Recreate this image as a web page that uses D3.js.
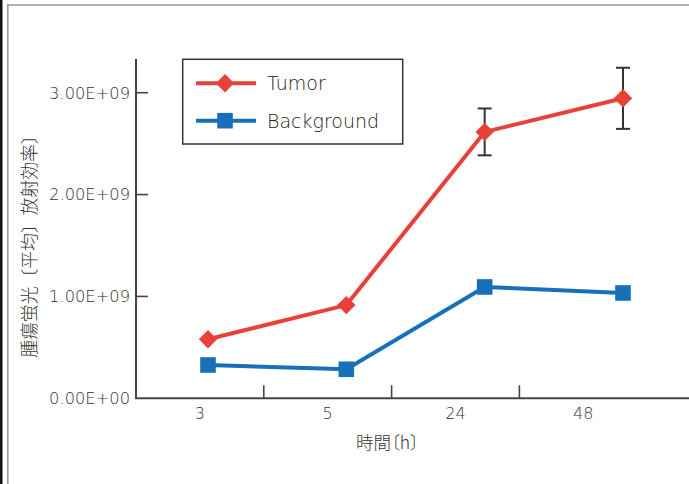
<!DOCTYPE html>
<html>
<head>
<meta charset="utf-8">
<script src="https://cdn.jsdelivr.net/npm/d3@7/dist/d3.min.js"></script>
<style>
  html, body { margin: 0; padding: 0; background: #fff; }
  svg { display: block; }
</style>
</head>
<body>
<script>
// Time points (hours) and mean radiant efficiency per series
const categories = ["3", "5", "24", "48"];
const tumorValues = [0.58e9, 0.915e9, 2.615e9, 2.945e9];
const tumorErrors = [0, 0, 0.23e9, 0.3e9];
const backgroundValues = [0.327e9, 0.285e9, 1.093e9, 1.034e9];
const yTickValues = [0, 1e9, 2e9, 3e9];
const seriesNames = ["Tumor", "Background"];

const W = 689, H = 484;
const svg = d3.select("body").append("svg").attr("width", W).attr("height", H);

// page frame
svg.append("rect").attr("x", 0).attr("y", 0).attr("width", 2.5).attr("height", H).attr("fill", "#111");
svg.append("path").attr("d", `M7.8,${H} V5 H${W}`).attr("fill", "none")
  .attr("stroke", "#9a9a9a").attr("stroke-width", 1.6);

const axisColor = "#444";
const textColor = "#333";
const red = "#e8413a", blue = "#1770b9";

// scales
const x = d3.scaleBand().domain(categories).range([136, 647.2]);
const xp = d3.scalePoint().domain(categories).range([208, 623]);
const y = d3.scaleLinear().domain([0, 3e9]).range([398.3, 92.7]);
const yTop = 59;

// y axis
svg.append("line").attr("x1", 136).attr("x2", 136).attr("y1", yTop).attr("y2", y(0))
  .attr("stroke", axisColor).attr("stroke-width", 2);
const yt = svg.append("g");
yTickValues.forEach(v => {
  if (v > 0) {
    yt.append("line").attr("x1", 136).attr("x2", 148).attr("y1", y(v)).attr("y2", y(v))
      .attr("stroke", axisColor).attr("stroke-width", 1.6);
  }
  yt.append("text").attr("x", 130).attr("y", y(v)).attr("dy", "0.36em")
    .attr("text-anchor", "end").attr("font-family", "DejaVu Sans").attr("font-weight", 300)
    .attr("font-size", 16.3)
    .attr("fill", textColor).text(d3.format(".2e")(v).replace("e", "E").replace(/E([+-])(\d)$/, "E$10$2").toUpperCase());
});

// x axis
svg.append("line").attr("x1", 135).attr("x2", W).attr("y1", y(0)).attr("y2", y(0))
  .attr("stroke", axisColor).attr("stroke-width", 2);
categories.slice(1).forEach(c => {
  svg.append("line").attr("x1", x(c)).attr("x2", x(c)).attr("y1", y(0)).attr("y2", y(0) - 13)
    .attr("stroke", axisColor).attr("stroke-width", 1.6);
});
categories.forEach(c => {
  svg.append("text").attr("x", x(c) + x.bandwidth() / 2).attr("y", 419)
    .attr("text-anchor", "middle").attr("font-family", "DejaVu Sans").attr("font-weight", 300)
    .attr("font-size", 16)
    .attr("fill", textColor).text(c);
});

// axis titles
svg.append("text").attr("x", 387.5).attr("y", 449).attr("text-anchor", "middle")
  .attr("font-family", "Noto Sans CJK JP").attr("font-weight", 300).attr("font-size", 17.5)
  .style("font-feature-settings", "'palt'").attr("fill", textColor).text("時間〔h〕");
svg.append("text").attr("transform", "translate(36,242) rotate(-90)").attr("text-anchor", "middle")
  .attr("font-family", "Noto Sans CJK JP").attr("font-weight", 300).attr("font-size", 17.8)
  .attr("fill", textColor).text("腫瘍蛍光〔平均〕放射効率〕");

// lines
const line = d3.line().x((d, i) => xp(categories[i])).y(d => y(d));
svg.append("path").datum(backgroundValues).attr("d", line).attr("fill", "none")
  .attr("stroke", blue).attr("stroke-width", 4);
svg.append("path").datum(tumorValues).attr("d", line).attr("fill", "none")
  .attr("stroke", red).attr("stroke-width", 4);

// error bars
tumorValues.forEach((v, i) => {
  const e = tumorErrors[i];
  if (!e) return;
  const cx = xp(categories[i]);
  const g = svg.append("g").attr("stroke", "#333").attr("stroke-width", 2);
  g.append("line").attr("x1", cx).attr("x2", cx).attr("y1", y(v + e)).attr("y2", y(v - e));
  g.append("line").attr("x1", cx - 7).attr("x2", cx + 7).attr("y1", y(v + e)).attr("y2", y(v + e));
  g.append("line").attr("x1", cx - 7).attr("x2", cx + 7).attr("y1", y(v - e)).attr("y2", y(v - e));
});

// markers
const diamond = (cx, cy, r) => `M${cx},${cy - r}L${cx + r},${cy}L${cx},${cy + r}L${cx - r},${cy}Z`;
backgroundValues.forEach((v, i) => {
  svg.append("rect").attr("x", xp(categories[i]) - 7.8).attr("y", y(v) - 7.8)
    .attr("width", 15.6).attr("height", 15.6).attr("fill", blue);
});
tumorValues.forEach((v, i) => {
  svg.append("path").attr("d", diamond(xp(categories[i]), y(v), 9.2)).attr("fill", red);
});

// legend
const lg = svg.append("g");
lg.append("rect").attr("x", 182.7).attr("y", 59.3).attr("width", 220).attr("height", 84.7)
  .attr("fill", "#fff").attr("stroke", "#333").attr("stroke-width", 1.5);
const legendY = [83.3, 120.7];
const legendColors = [red, blue];
seriesNames.forEach((name, i) => {
  const ly = legendY[i];
  lg.append("line").attr("x1", 196).attr("x2", 256).attr("y1", ly).attr("y2", ly)
    .attr("stroke", legendColors[i]).attr("stroke-width", 4);
  if (i === 0) {
    lg.append("path").attr("d", diamond(225, ly, 9.2)).attr("fill", red);
  } else {
    lg.append("rect").attr("x", 225 - 7.8).attr("y", ly - 7.8).attr("width", 15.6)
      .attr("height", 15.6).attr("fill", blue);
  }
  lg.append("text").attr("x", 267).attr("y", ly).attr("dy", "0.36em")
    .attr("font-family", "DejaVu Sans").attr("font-weight", 300)
    .attr("font-size", 19).attr("fill", "#222").text(name);
});
</script>
</body>
</html>
